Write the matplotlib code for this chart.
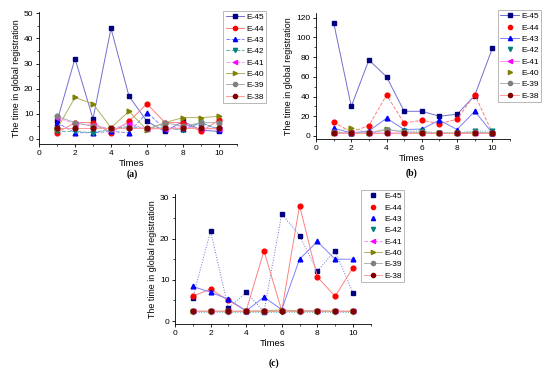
import numpy as np
import matplotlib
matplotlib.use("Agg")
import matplotlib.pyplot as plt
from matplotlib.lines import Line2D
from matplotlib.ticker import MultipleLocator

plt.rcParams["font.family"] = ["Liberation Sans", "DejaVu Sans"]

times = [1, 2, 3, 4, 5, 6, 7, 8, 9, 10]
labels = ["E-45", "E-44", "E-43", "E-42", "E-41", "E-40", "E-39", "E-38"]

# panel (a)
a_e45 = [7, 32, 8, 44, 17, 7, 3, 7, 3.5, 3]
a_e44 = [2.5, 6.5, 6.5, 2.5, 7, 14, 6.5, 6.5, 3, 7.5]
a_e43 = [6.5, 2.5, 2.5, 3, 2.5, 10.5, 4, 4, 6.5, 3.5]
a_e42 = [3, 3, 2.5, 4, 5, 4, 4.5, 3.5, 6.5, 4]
a_e41 = [8.5, 6, 5.5, 4, 6, 4, 4, 5, 4, 4]
a_e40 = [4, 16.5, 14, 4.5, 11, 3.5, 6.5, 8.5, 8.5, 9]
a_e39 = [9, 6.5, 5, 4, 4.5, 4, 6.5, 5, 6.5, 6.5]
a_e38 = [4.5, 4.5, 4.5, 4.5, 4.5, 4.5, 4.5, 4.5, 4.5, 4.5]

# panel (b)
b_e45 = [115, 30, 77, 60, 25, 25, 20, 22, 41, 89]
b_e44 = [14, 4, 10.5, 41.5, 13, 16, 12.5, 17, 42, 3]
b_e43 = [8, 3, 5, 18, 6.5, 7, 16, 6.5, 25, 3]
b_e42 = [3, 3, 2.5, 6, 5, 5, 3, 3, 5, 5]
b_e41 = [3, 3, 3, 3, 3, 2.5, 2.5, 2.5, 3, 3]
b_e40 = [3, 8.5, 3, 7.5, 3.5, 4, 3, 3, 3, 3]
b_e39 = [3.5, 3, 3, 6.5, 4, 3.5, 3, 3, 4, 3]
b_e38 = [3, 3, 3, 3, 3, 3, 3, 3, 3, 3]

# panel (c)
c_e45 = [5.7, 21.8, 3.1, 7, 2.3, 26, 20.7, 12.1, 17.1, 6.8]
c_e44 = [6, 7.8, 5, 2.5, 17, 2.5, 28, 10.7, 6, 12.9]
c_e43 = [8.4, 7, 5.3, 2.5, 5.8, 2.8, 15, 19.3, 15, 15]
c_e42 = [2.2, 2.2, 2.2, 2.2, 2.2, 2.2, 2.2, 2.2, 2.2, 2.2]
c_e41 = [2.4, 2.4, 2.4, 2.4, 2.4, 2.4, 2.4, 2.4, 2.4, 2.4]
c_e40 = [2.4, 2.4, 2.4, 2.4, 2.5, 2.7, 2.5, 2.5, 2.4, 2.4]
c_e39 = [2.4, 2.4, 2.4, 2.4, 2.4, 2.4, 2.4, 2.4, 2.4, 2.4]
c_e38 = [2.4, 2.4, 2.4, 2.4, 2.4, 2.4, 2.5, 2.5, 2.4, 2.4]

marker_colors = ["#000080", "#ff0000", "#0000ff", "#008080",
                 "#ff00ff", "#808000", "#808080", "#800000"]
line_colors = ["#7070d0", "#ff8080", "#8080ff", "#60b0b0",
               "#ff90ff", "#b0b060", "#b0b0b0", "#ff9999"]
markers = ["s", "o", "^", "v", "<", ">", "o", "o"]


def draw_panel(fig, rect, series, ylim, ymajor, yminor, leg_pos, leg_lines, styles, tag, tag_pos, times_pos):
    ax = fig.add_axes(rect)
    for i, ys in enumerate(series):
        ax.plot(times, ys, color=line_colors[i], lw=0.7, ls=styles[i],
                marker=markers[i], ms=3.4, mfc=marker_colors[i], mec=marker_colors[i], zorder=3 + i * 0.01)
    ax.set_xlim(0, 11)
    ax.set_ylim(*ylim)
    ax.xaxis.set_major_locator(MultipleLocator(2))
    ax.xaxis.set_minor_locator(MultipleLocator(1))
    ax.yaxis.set_major_locator(MultipleLocator(ymajor))
    ax.yaxis.set_minor_locator(MultipleLocator(yminor))
    for s in ["top", "right"]:
        ax.spines[s].set_visible(False)
    for s in ["left", "bottom"]:
        ax.spines[s].set_linewidth(0.6)
    ax.tick_params(which="major", direction="out", length=2.5, width=0.6, labelsize=6, pad=1.5)
    ax.tick_params(which="minor", direction="out", length=1.5, width=0.5)
    ax.set_ylabel("The time in global registration", fontsize=6.4, labelpad=2)
    fig.text(times_pos[0] / 550, 1 - times_pos[1] / 374, "Times", fontsize=6.8,
             ha="center", va="center")
    fig.text(tag_pos[0] / 550, 1 - tag_pos[1] / 374, tag, fontsize=7, fontweight="bold",
             family="Liberation Serif", ha="center", va="center")

    handles = []
    for i in range(len(labels)):
        handles.append(Line2D([], [], color=line_colors[i], lw=0.7 if leg_lines[i] else 0,
                              ls=styles[i] if leg_lines[i] else "none",
                              marker=markers[i], ms=3, mfc=marker_colors[i], mec=marker_colors[i]))
    leg = fig.legend(handles, labels, loc="upper left",
                     bbox_to_anchor=(leg_pos[0] / 550, 1 - leg_pos[1] / 374),
                     bbox_transform=fig.transFigure, fontsize=6, frameon=True,
                     fancybox=False, edgecolor="#999999", handlelength=2.2,
                     handletextpad=0.3, labelspacing=0.42, borderpad=0.3,
                     borderaxespad=0.0)
    leg.get_frame().set_linewidth(0.6)
    return ax


fig = plt.figure(figsize=(5.5, 3.74), dpi=100)

draw_panel(fig, [39 / 550, 1 - 144 / 374, 198 / 550, 132 / 374],
           [a_e45, a_e44, a_e43, a_e42, a_e41, a_e40, a_e39, a_e38],
           (-2, 50.5), 10, 5, (223, 11), [True] * 8,
           ["-", "-", "--", "--", "--", "-", "-", "-"], "(a)", (132, 174), (132, 163))

draw_panel(fig, [316 / 550, 1 - 139.3 / 374, 194 / 550, 126.6 / 374],
           [b_e45, b_e44, b_e43, b_e42, b_e41, b_e40, b_e39, b_e38],
           (-3.4, 125), 20, 10, (498, 10),
           [True, False, True, False, True, False, True, True],
           ["-", "--", "-", ":", "-", ":", "-", "-"], "(b)", (411, 173), (412, 159))

draw_panel(fig, [175 / 550, 1 - 324 / 374, 195.7 / 550, 130 / 374],
           [c_e45, c_e44, c_e43, c_e42, c_e41, c_e40, c_e39, c_e38],
           (-0.7, 30.8), 10, 5, (361, 190),
           [False, False, False, False, True, True, True, True],
           [":", "-", "-", ":", "--", "-", "-", "-"], "(c)", (274, 363), (273, 344))

fig.savefig("out.png", dpi=100)
